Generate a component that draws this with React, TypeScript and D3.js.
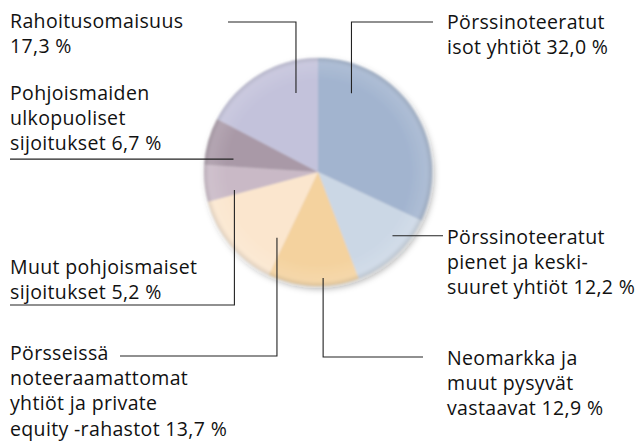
import React from 'react';
import * as d3 from 'd3';

// Sijoitusjakauma, % (myötäpäivään klo 12:sta)
const labels: string[][] = [
  ['Pörssinoteeratut', 'isot yhtiöt 32,0 %'],
  ['Pörssinoteeratut', 'pienet ja keski-', 'suuret yhtiöt 12,2 %'],
  ['Neomarkka ja', 'muut pysyvät', 'vastaavat 12,9 %'],
  ['Pörsseissä', 'noteeraamattomat', 'yhtiöt ja private', 'equity -rahastot 13,7 %'],
  ['Muut pohjoismaiset', 'sijoitukset 5,2 %'],
  ['Pohjoismaiden', 'ulkopuoliset', 'sijoitukset 6,7 %'],
  ['Rahoitusomaisuus', '17,3 %'],
];
const values = [32.0, 12.2, 12.9, 13.7, 5.2, 6.7, 17.3];
const colors = ['#a2b4cf', '#cbd7e5', '#f4d29e', '#fbe6ce', '#c9b9c6', '#a999a7', '#c3c2db'];

// label layout: text origin (first baseline), anchor inside slice (fraction of slice angle, radius), leader elbow
type Layout = { tx: number; ty: number; frac: number; rad: number; elbow: [number, number][] };
const layout: Layout[] = [
  { tx: 447, ty: 28.5, frac: 0.2, rad: 0.75, elbow: [[351, 22], [433, 22]] },
  { tx: 447, ty: 243.5, frac: 0.35, rad: 0.86, elbow: [[443, 236]] },
  { tx: 447, ty: 364.5, frac: 0.39, rad: 0.93, elbow: [[323, 357], [423, 357]] },
  { tx: 10, ty: 360, frac: 0.13, rad: 0.68, elbow: [[277, 356], [120, 356]] },
  { tx: 10, ty: 273.5, frac: 0.16, rad: 0.75, elbow: [[234, 305], [10, 305]] },
  { tx: 10, ty: 99.5, frac: 0.21, rad: 0.75, elbow: [[10, 159]] },
  { tx: 10, ty: 28, frac: 0.75, rad: 0.72, elbow: [[296, 22], [228, 22]] },
];

const W = 643;
const H = 441;
const cx = 318;
const cy = 172;
const R = 114;

export default function App() {
  const pie = d3.pie<number>().sort(null).value(d => d);
  const arcs = pie(values);
  const arc = d3.arc<d3.PieArcDatum<number>>().innerRadius(0).outerRadius(R);
  const line = d3.line();
  const font = '"Open Sans", "Noto Sans", sans-serif';

  return (
    <svg width={W} height={H} style={{ position: 'absolute', left: 0, top: 0, background: '#fff' }}>
      <defs>
        <filter id="soft" x="-20%" y="-20%" width="140%" height="140%">
          <feGaussianBlur in="SourceAlpha" stdDeviation="3" />
          <feOffset dx="2" dy="3" result="b" />
          <feFlood floodColor="#000" floodOpacity="0.3" />
          <feComposite in2="b" operator="in" result="sh" />
          <feGaussianBlur in="SourceGraphic" stdDeviation="1" result="g" />
          <feMerge>
            <feMergeNode in="sh" />
            <feMergeNode in="g" />
          </feMerge>
        </filter>
        <radialGradient id="shade" cx="0.5" cy="0.5" r="0.5">
          <stop offset="0.8" stopColor="#fff" stopOpacity="0" />
          <stop offset="0.95" stopColor="#fff" stopOpacity="0.12" />
          <stop offset="1" stopColor="#777" stopOpacity="0.22" />
        </radialGradient>
      </defs>
      <g transform={`translate(${cx},${cy})`} filter="url(#soft)">
        {arcs.map((a, i) => (
          <path key={i} d={arc(a) || ''} fill={colors[i]} />
        ))}
        <circle r={R} fill="url(#shade)" />
      </g>
      {arcs.map((a, i) => {
        const L = layout[i];
        const ang = a.startAngle + L.frac * (a.endAngle - a.startAngle);
        const r = L.rad * R;
        const p: [number, number] = [cx + r * Math.sin(ang), cy - r * Math.cos(ang)];
        let pts: [number, number][];
        // first elbow aligns with the anchor
        if (L.elbow.length === 2) {
          const e = L.elbow[0];
          const vertical = Math.abs(e[0] - p[0]) < Math.abs(e[1] - p[1]);
          pts = vertical ? [p, [p[0], e[1]], L.elbow[1]] : [p, [e[0], p[1]], L.elbow[1]];
        } else {
          pts = [p, [L.elbow[0][0], p[1]]];
        }
        return <path key={i} d={line(pts) || ''} fill="none" stroke="#222" strokeWidth={1.1} />;
      })}
      {labels.map((ls, i) => (
        <text
          key={i}
          x={layout[i].tx}
          y={layout[i].ty}
          fontFamily={font}
          fontSize={19.5}
          letterSpacing={0.35}
          fill="#111"
        >
          {ls.map((t, j) => (
            <tspan key={j} x={layout[i].tx} dy={j === 0 ? 0 : 25.2}>
              {t}
            </tspan>
          ))}
        </text>
      ))}
    </svg>
  );
}
